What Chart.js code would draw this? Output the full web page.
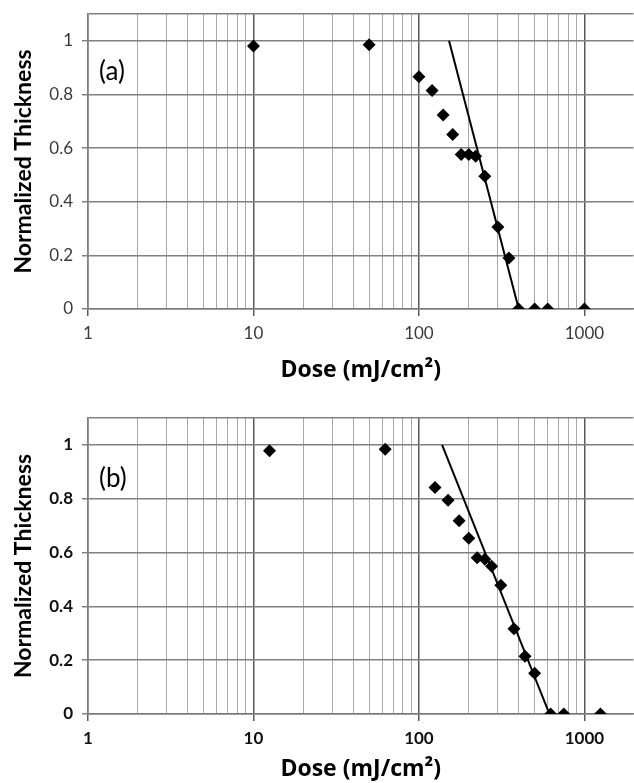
<!DOCTYPE html>
<html>
<head>
<meta charset="utf-8">
<script src="https://cdn.jsdelivr.net/npm/chart.js@4/dist/chart.umd.min.js"></script>
<style>
  html, body { margin: 0; padding: 0; background: #fff; overflow: hidden; }
  #wrap { position: relative; width: 634px; height: 783px; overflow: hidden; }
  canvas { position: absolute; left: 0; display: block; }
  #cA { top: 0; }
  #cB { top: 390px; }
</style>
</head>
<body>
<div id="wrap">
  <canvas id="cA" width="640" height="390"></canvas>
  <canvas id="cB" width="640" height="393"></canvas>
</div>
<script>
// ---- Data ----
const doseA = [10, 50, 100, 120, 140, 160, 180, 200, 220, 250, 300, 350, 400, 500, 600, 1000];
const thickA = [0.981, 0.985, 0.866, 0.815, 0.723, 0.651, 0.576, 0.576, 0.570, 0.495, 0.306, 0.190, 0, 0, 0, 0];
const fitDoseA = [152, 401];
const fitThickA = [1, 0];

const doseB = [12.5, 62.5, 125, 150, 175, 200, 225, 250, 275, 312.5, 375, 437.5, 500, 625, 750, 1250];
const thickB = [0.978, 0.984, 0.842, 0.794, 0.718, 0.653, 0.581, 0.575, 0.549, 0.478, 0.317, 0.215, 0.151, 0, 0, 0];
const fitDoseB = [138, 615];
const fitThickB = [1, 0];

const xTickValues = [1,2,3,4,5,6,7,8,9,10,20,30,40,50,60,70,80,90,100,200,300,400,500,600,700,800,900,1000];
const xLabelValues = [1, 10, 100, 1000];
const yTickValues = [0, 0.2, 0.4, 0.6, 0.8, 1, 1.1];
const yLabelValues = [0, 0.2, 0.4, 0.6, 0.8, 1];

const xMin = 1, xMax = 1980, yMin = 0, yMax = 1.1;
const xTitle = 'Dose (mJ/cm\u00B2)';
const yTitle = 'Normalized Thickness';

const FONT = 'Lato, "Liberation Sans", sans-serif';
const WIDE = '"Open Sans", Lato, sans-serif';

function isMajorX(v) { return xLabelValues.includes(v); }

function panelLabelPlugin(text, dy) {
  return {
    id: 'panelLabel',
    afterDraw(chart) {
      const ctx = chart.ctx, a = chart.chartArea;
      ctx.save();
      ctx.font = '26px ' + FONT;
      ctx.fillStyle = '#000';
      ctx.textAlign = 'left';
      ctx.textBaseline = 'middle';
      ctx.fillText(text, a.left + 11, a.top + dy);
      ctx.restore();
    }
  };
}

function makeChart(id, doses, thick, fitD, fitT, cfg) {
  const pts = doses.map((d, i) => ({x: d, y: thick[i]}));
  const fit = fitD.map((d, i) => ({x: d, y: fitT[i]}));
  return new Chart(document.getElementById(id), {
    type: 'scatter',
    data: {
      datasets: [
        { data: fit, showLine: true, borderColor: '#000', borderWidth: 2, pointRadius: 0, fill: false, order: 2 },
        { data: pts, showLine: false, pointStyle: 'rectRot', pointRadius: 6.5, pointBackgroundColor: '#000', pointBorderColor: '#000', pointBorderWidth: 0, order: 1 }
      ]
    },
    options: {
      responsive: false,
      animation: false,
      devicePixelRatio: 1,
      layout: { padding: { top: cfg.top, left: 0, right: 0, bottom: 0 } },
      plugins: { legend: { display: false }, tooltip: { enabled: false } },
      scales: {
        x: {
          type: 'logarithmic',
          min: xMin, max: xMax,
          afterBuildTicks(scale) { scale.ticks = xTickValues.map(v => ({value: v, major: isMajorX(v)})); },
          afterFit(scale) { scale.height = cfg.xAxisH; scale.paddingLeft = 0; scale.paddingRight = 0; },
          ticks: {
            autoSkip: false, maxRotation: 0, padding: 7,
            color: cfg.tickColor,
            font: { family: FONT, size: 17, weight: cfg.tickWeight },
            callback: (v) => xLabelValues.includes(v) ? String(v) : ''
          },
          grid: {
            drawTicks: true, tickLength: 7,
            color: (c) => (c.tick && isMajorX(c.tick.value)) ? '#5a5a5a' : '#a8a8a8',
            lineWidth: (c) => (c.tick && isMajorX(c.tick.value)) ? 1.5 : 1,
            tickColor: (c) => (c.tick && isMajorX(c.tick.value)) ? '#5a5a5a' : 'rgba(0,0,0,0)'
          },
          border: { display: true, color: '#7a7a7a', width: 1.5 },
          title: {
            display: true, text: xTitle, color: '#000',
            font: { family: WIDE, size: 23, weight: 'bold' },
            padding: { top: 0, bottom: cfg.xTitlePad }
          }
        },
        y: {
          type: 'linear',
          min: yMin, max: yMax,
          afterBuildTicks(scale) { scale.ticks = yTickValues.map(v => ({value: v})); },
          afterFit(scale) { scale.width = 88; scale.paddingTop = 0; scale.paddingBottom = 0; },
          ticks: {
            autoSkip: false, padding: 9,
            color: cfg.tickColor,
            font: { family: FONT, size: 17, weight: cfg.tickWeight },
            callback: (v) => yLabelValues.includes(v) ? String(v) : ''
          },
          grid: {
            drawTicks: true, tickLength: 6,
            color: '#808080', lineWidth: 1.5,
            tickColor: (c) => (c.tick && c.tick.value > 1.05) ? 'rgba(0,0,0,0)' : '#808080'
          },
          border: { display: true, color: '#808080', width: 1.5 },
          title: {
            display: true, text: yTitle, color: '#000',
            font: { family: FONT, size: 23, weight: 'bold' },
            padding: { top: 10, bottom: 0 }
          }
        }
      }
    },
    plugins: [panelLabelPlugin(cfg.label, cfg.labelDy)]
  });
}

makeChart('cA', doseA, thickA, fitDoseA, fitThickA,
  { top: 14, xAxisH: 81, xTitlePad: 6, tickColor: '#3a3a3a', tickWeight: 'normal', label: '(a)', labelDy: 58 });
makeChart('cB', doseB, thickB, fitDoseB, fitThickB,
  { top: 28, xAxisH: 69, xTitlePad: 0, tickColor: '#111', tickWeight: 'bold', label: '(b)', labelDy: 61 });
</script>
</body>
</html>
